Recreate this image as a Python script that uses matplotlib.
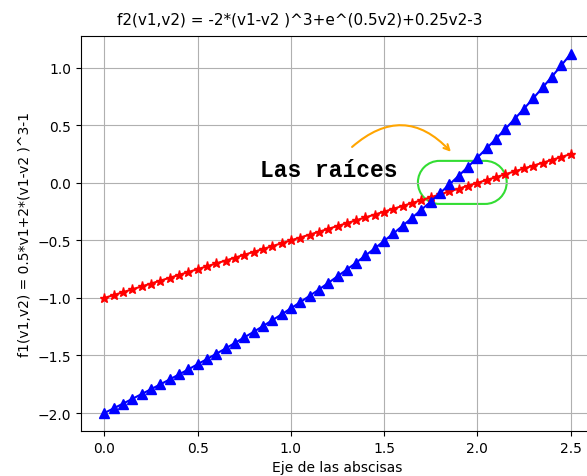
import matplotlib
matplotlib.use("Agg")
import numpy as np
import matplotlib.pyplot as plt
from matplotlib.path import Path
from matplotlib.patches import PathPatch

x_vals = [0.00, 0.05, 0.10, 0.15, 0.20, 0.25, 0.30, 0.35, 0.40, 0.45,
          0.50, 0.55, 0.60, 0.65, 0.70, 0.75, 0.80, 0.85, 0.90, 0.95,
          1.00, 1.05, 1.10, 1.15, 1.20, 1.25, 1.30, 1.35, 1.40, 1.45,
          1.50, 1.55, 1.60, 1.65, 1.70, 1.75, 1.80, 1.85, 1.90, 1.95,
          2.00, 2.05, 2.10, 2.15, 2.20, 2.25, 2.30, 2.35, 2.40, 2.45, 2.50]

red_vals = [-1.000, -0.975, -0.950, -0.925, -0.900, -0.875, -0.850, -0.825, -0.800, -0.775,
            -0.750, -0.725, -0.700, -0.675, -0.650, -0.625, -0.600, -0.575, -0.550, -0.525,
            -0.500, -0.475, -0.450, -0.425, -0.400, -0.375, -0.350, -0.325, -0.300, -0.275,
            -0.250, -0.225, -0.200, -0.175, -0.150, -0.125, -0.100, -0.075, -0.050, -0.025,
            0.000, 0.025, 0.050, 0.075, 0.100, 0.125, 0.150, 0.175, 0.200, 0.225, 0.250]

blue_vals = [-2.000, -1.959, -1.918, -1.877, -1.835, -1.793, -1.751, -1.708, -1.665, -1.621,
             -1.576, -1.531, -1.485, -1.439, -1.391, -1.343, -1.295, -1.245, -1.194, -1.143,
             -1.090, -1.037, -0.982, -0.927, -0.870, -0.812, -0.753, -0.693, -0.631, -0.569,
             -0.504, -0.439, -0.372, -0.303, -0.233, -0.162, -0.089, -0.014, 0.062, 0.140,
             0.220, 0.301, 0.384, 0.469, 0.556, 0.645, 0.736, 0.829, 0.924, 1.021, 1.120]

title_text = "f2(v1,v2) = -2*(v1-v2 )^3+e^(0.5v2)+0.25v2-3"
ylabel_text = "f1(v1,v2) = 0.5*v1+2*(v1-v2 )^3-1"
xlabel_text = "Eje de las abscisas"
annot_text = "Las raíces"

fig = plt.figure(figsize=(5.87, 4.77), dpi=100)
ax = fig.add_axes([81/587, 45/477, 513/587, 395/477])

ax.plot(x_vals, red_vals, "r-*", markersize=6.5)
ax.plot(x_vals, blue_vals, "b-^", markersize=6.5)
ax.grid(True)

ax.set_title(title_text, x=(300-81)/513, fontsize=11, pad=9)
ax.set_ylabel(ylabel_text)
ax.set_xlabel(xlabel_text)

ax.text(0.835, 0.12, annot_text, family="Liberation Mono", fontweight="bold",
        fontsize=16.5, va="center", ha="left")

ax.annotate("", xy=(1.868, 0.252), xytext=(1.317, 0.296),
            arrowprops=dict(arrowstyle="->", color="orange", lw=1.5,
                            connectionstyle="arc3,rad=-0.5"))

# pill-shaped highlight (stadium) around the crossing, in data units
bx0, bx1, by0, by1 = 1.681, 2.157, -0.183, 0.191
ry = (by1 - by0) / 2
rx = ry * 115 / 186.8  # makes the ends circular on screen
yc = (by0 + by1) / 2
right = Path.arc(-90, 90)
left = Path.arc(90, 270)
rv = right.vertices * [rx, ry] + [bx1 - rx, yc]
lv = left.vertices * [rx, ry] + [bx0 + rx, yc]
verts = np.vstack([rv, lv, rv[:1]])
codes = list(right.codes) + [Path.LINETO] + list(left.codes[1:]) + [Path.LINETO]
pill = PathPatch(Path(verts, codes), fill=False, edgecolor="#33dd33", linewidth=1.5)
ax.add_patch(pill)

fig.savefig("out.png", dpi=100)
